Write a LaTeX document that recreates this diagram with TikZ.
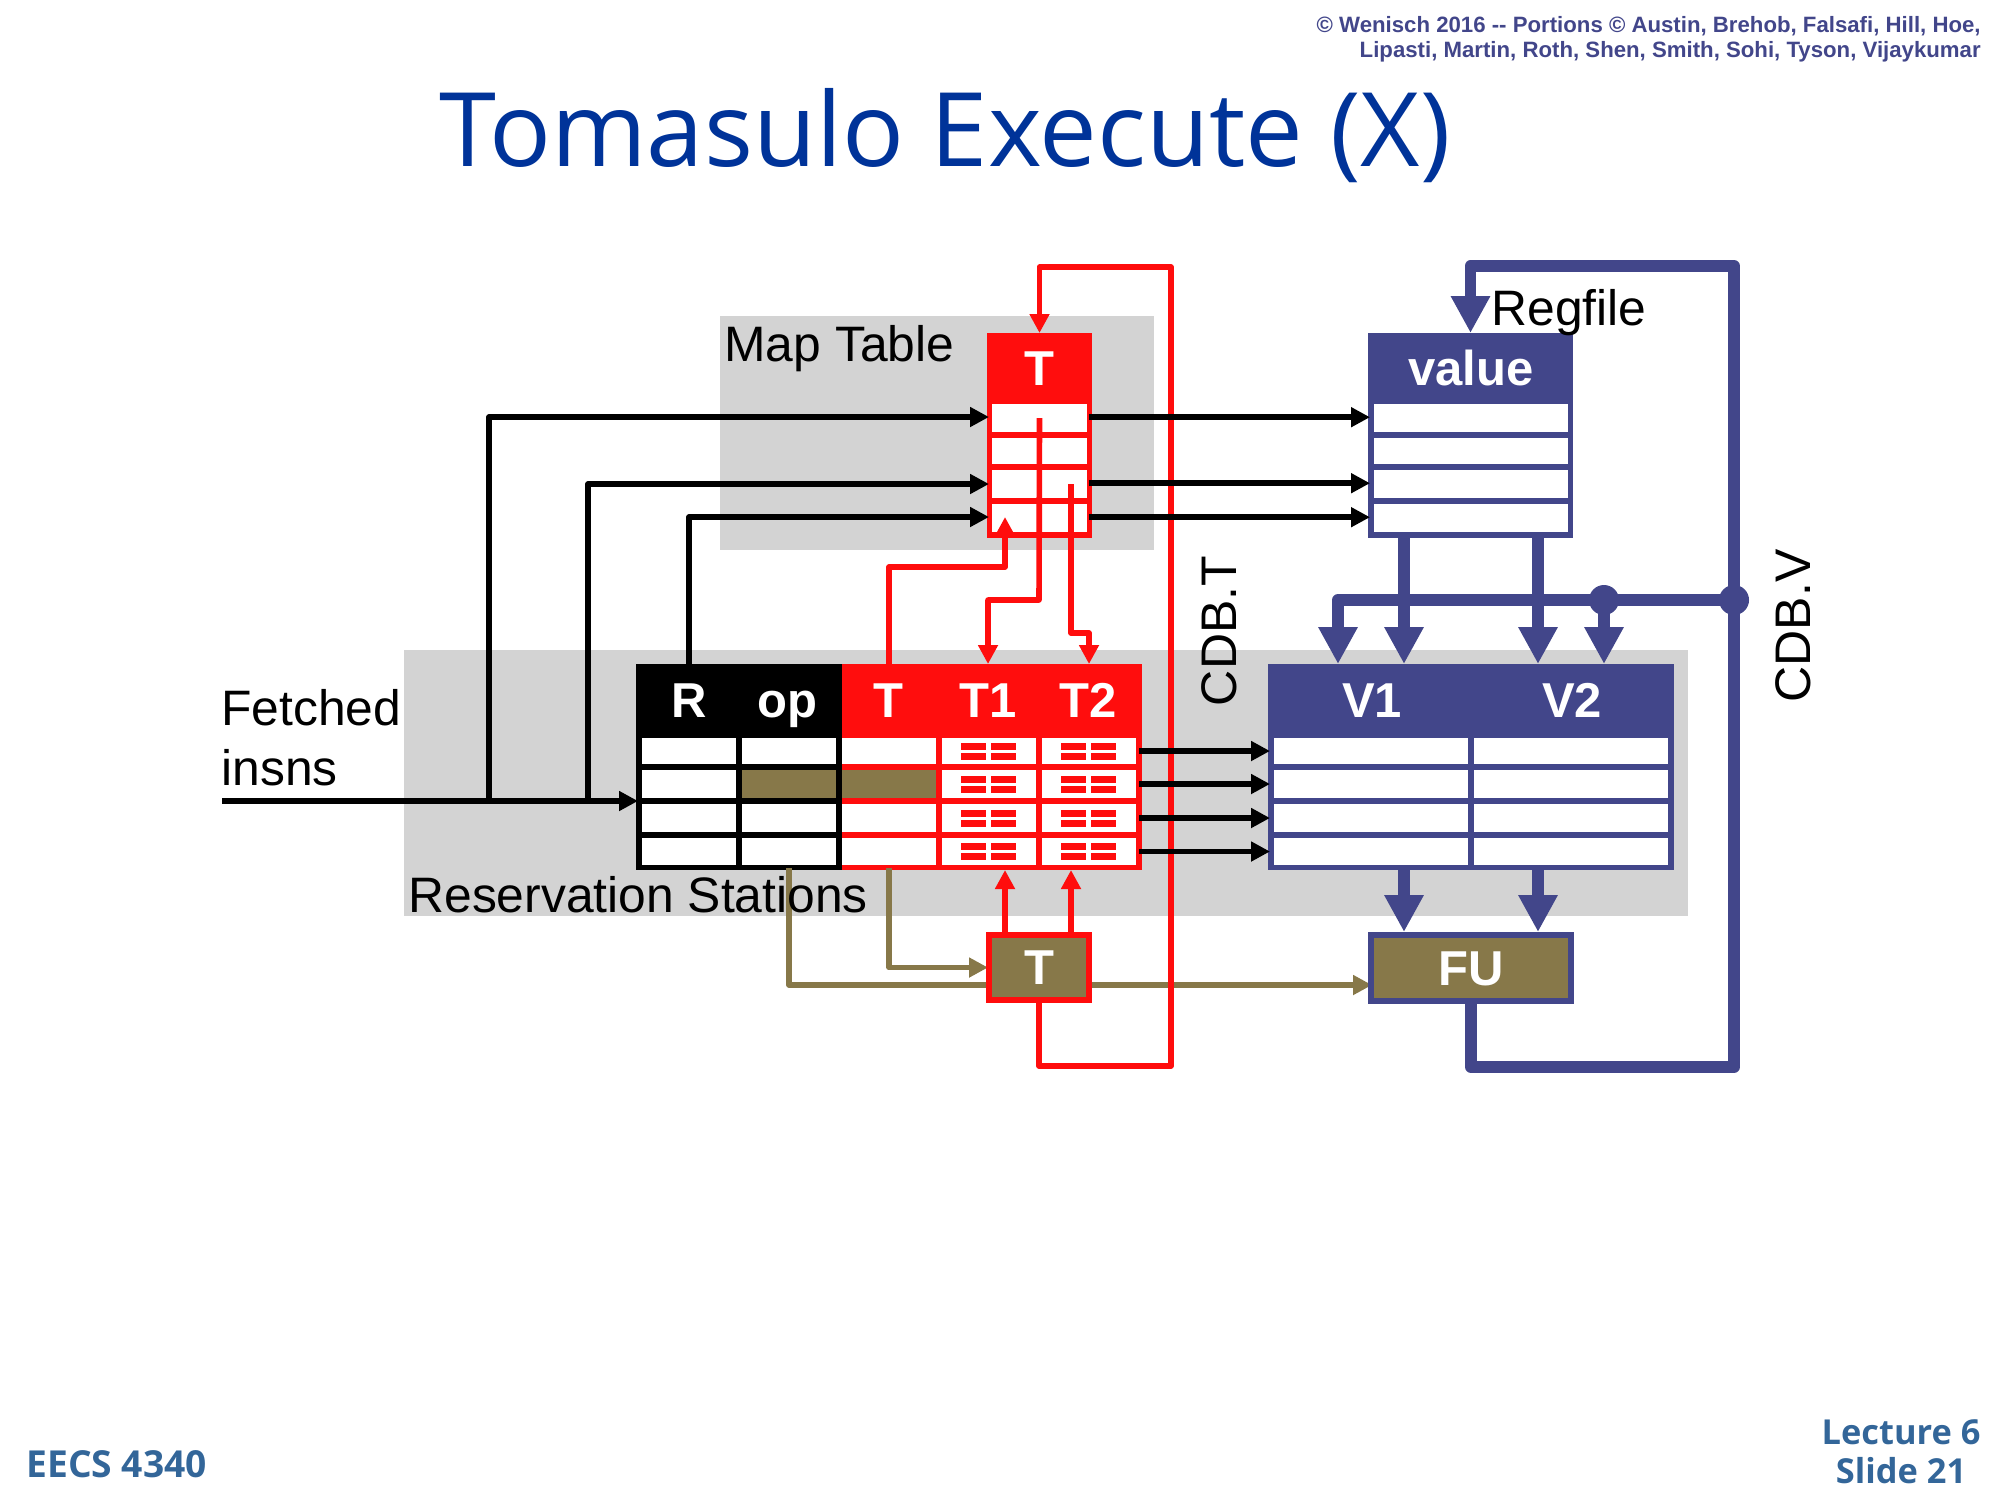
\documentclass[tikz,border=0pt]{standalone}
\usepackage{fontspec}
\setmainfont{Liberation Sans}
\newfontfamily\slidefont{Open Sans}
\usetikzlibrary{arrows.meta}

\definecolor{rsred}{HTML}{FF0D0D}
\definecolor{rsblue}{HTML}{42468A}
\definecolor{rsolive}{HTML}{877849}
\definecolor{rsgray}{HTML}{D3D3D3}
\definecolor{titleblue}{HTML}{003399}
\definecolor{footblue}{HTML}{336699}

\tikzset{
  block/.style n args={3}{rectangle, fill=#3, draw=none, inner sep=0pt, outer sep=0pt,
    minimum width=#1*0.5pt, minimum height=#2*0.5pt},
  cell/.style 2 args={block={#1}{#2}{white}},
  framed/.style n args={3}{rectangle, fill=rsolive, draw=#3, line width=3pt, inner sep=0pt,
    minimum width=#1*0.5pt, minimum height=#2*0.5pt},
  conn/.style={line width=2.8pt, line join=round},
  blackwire/.style={conn, black, -{Triangle[length=9.5pt,width=9.5pt]}},
  redwire/.style={conn, rsred, -{Triangle[length=9.5pt,width=9.5pt]}},
  olivewire/.style={conn, rsolive, -{Triangle[length=9.5pt,width=9.5pt]}},
  bluewire/.style={line width=5.8pt, line join=round, rsblue, -{Triangle[length=18.5pt,width=18.5pt]}},
  busdot/.style={circle, fill=rsblue, inner sep=0pt, minimum size=15pt},
  head/.style={anchor=base, inner sep=0pt, text=white, font=\bfseries\fontsize{24.5}{29}\selectfont},
  caption/.style={anchor=base west, inner sep=0pt, font=\fontsize{24.9}{30}\selectfont},
  sidecaption/.style={anchor=base, rotate=90, inner sep=0pt, font=\fontsize{25}{30}\selectfont},
  credit/.style={anchor=base east, inner sep=0pt, text=rsblue, font=\bfseries\fontsize{11.1}{13}\selectfont},
  foot/.style={anchor=base, inner sep=0pt, text=footblue, font=\slidefont\bfseries\fontsize{17.2}{20}\selectfont}
}

\begin{document}
\begin{tikzpicture}[x=0.5pt, y=-0.5pt]
  \useasboundingbox (0,0) rectangle (2000,1500);

  % grey backdrops
  \node[block={434}{234}{rsgray}] (mapback) at (937,433) {};
  \node[block={1284}{266}{rsgray}] (rsback) at (1046,783) {};

  % map table and regfile
  \node[block={105}{205}{rsred}] (map) at (1039.5,435.5) {};
  \node[block={205}{205}{rsblue}] (reg) at (1470.5,435.5) {};
  \foreach \n/\y/\h in {1/418/28,2/451/26,3/484/28,4/518/28} {
    \node[cell={95}{\h}] (m\n) at (1039.5,\y) {};
    \node[cell={194}{\h}] (r\n) at (1471,\y) {};
  }

  % reservation stations
  \node[block={206}{206}{black}] (rsleft) at (739,767) {};
  \node[block={300}{206}{rsred}] (rsright) at (992,767) {};
  \node[block={406}{206}{rsblue}] (vtab) at (1471,767) {};
  \foreach \n/\y/\h in {1/751/26,2/784/28,3/818/28,4/851.5/27} {
    \node[cell={94}{\h}] (rsR\n) at (689,\y) {};
    \node[cell={94}{\h}] (rsOp\n) at (789,\y) {};
    \node[cell={94}{\h}] (rsT\n) at (889,\y) {};
    \node[cell={94}{\h}] (rsTa\n) at (989,\y) {};
    \node[cell={94}{\h}] (rsTb\n) at (1089,\y) {};
    \node[cell={194}{\h}] (rsVa\n) at (1371,\y) {};
    \node[cell={194}{\h}] (rsVb\n) at (1571,\y) {};
    \foreach \x in {973.5,1003.5,1073.5,1103.5} {
      \fill[rsred] (\x-12.5,\y-8.5) rectangle (\x+12.5,\y-1.5);
      \fill[rsred] (\x-12.5,\y+1.5) rectangle (\x+12.5,\y+8.5);
    }
  }
  \node[block={94}{28}{rsolive}] (busyOp) at (rsOp2) {};
  \node[block={94}{28}{rsolive}] (busyT) at (rsT2) {};

  % junctions and corners
  \coordinate (fetch) at (222,801);
  \coordinate (fetchin) at (638,801);
  \coordinate (jA) at (489,801);
  \coordinate (jB) at (588,801);
  \coordinate (tagin) at (988,967.5);
  \coordinate (fuin) at (1372,985);
  \coordinate (fromOp) at (789,868);
  \coordinate (fromT) at (889,868);
  \coordinate (t1in) at (988,664);
  \coordinate (t2in) at (1089,664);
  \coordinate (jogA) at (1039,600);
  \coordinate (lineB) at (1071,484);
  \coordinate (jogB) at (1071,633);
  \coordinate (toT) at (889,664);
  \coordinate (turnT) at (1005,567);
  \coordinate (mapin) at (1005,517);
  \coordinate (tagA) at (1005,870);
  \coordinate (tagB) at (1071,870);
  \coordinate (cdbtlow) at (1171,1066);
  \coordinate (cdbtup) at (1171,267);
  \coordinate (cdbvlow) at (1734,1067);
  \coordinate (cdbvup) at (1734,266);
  \coordinate (v1a) at (1338,664);
  \coordinate (v1b) at (1404,664);
  \coordinate (v2a) at (1538,664);
  \coordinate (v2b) at (1604,664);

  % olive wires go under the boxes
  \draw[olivewire] (fromOp) |- (fuin);
  \draw[olivewire] (fromT) |- (tagin);

  \node[framed={200}{66}{rsblue}] (fu) at (1471,968) {};
  \node[framed={100}{65}{rsred}] (tag) at (1039,967.5) {};

  % CDB.T
  \draw[redwire] (tag.south) |- (cdbtlow) -- (cdbtup) -| (map.north);
  \draw[redwire] (tagA |- tag.north) -- (tagA);
  \draw[redwire] (tagB |- tag.north) -- (tagB);
  \draw[redwire] (m1.center) -- (jogA) -| (t1in);
  \draw[redwire] (lineB) -- (jogB) -| (t2in);
  \draw[redwire] (toT) |- (turnT) -- (mapin);

  % CDB.V
  \draw[bluewire] (fu.south) |- (cdbvlow) -- (cdbvup) -| (reg.north);
  \node[busdot] (dotB) at (1734,600) {};
  \node[busdot] (dotA) at (1604,600) {};
  \draw[bluewire] (dotB.center) -| (v1a);
  \draw[bluewire] (dotA.center) -- (v2b);
  \draw[bluewire] (reg.south -| v1b) -- (v1b);
  \draw[bluewire] (reg.south -| v2a) -- (v2a);
  \draw[bluewire] (vtab.south -| v1b) -- (fu.north -| v1b);
  \draw[bluewire] (vtab.south -| v2a) -- (fu.north -| v2a);

  % black wires
  \draw[blackwire] (fetch) -- (fetchin);
  \draw[blackwire] (jA) |- ([xshift=1pt,yshift=0.5pt]map.west |- m1);
  \draw[blackwire] (jB) |- ([xshift=1pt]map.west |- m3);
  \draw[blackwire] (rsleft.north -| rsR1) |- ([xshift=1pt,yshift=0.5pt]map.west |- m4);
  \foreach \n in {1,3,4} {
    \draw[blackwire, shorten <=-1.5pt, shorten >=-1pt] ([yshift=0.4pt]map.east |- m\n) -- ([yshift=0.4pt]reg.west |- r\n);
  }
  \foreach \n in {1,2,3,4} {
    \draw[blackwire, shorten <=-1.5pt, shorten >=-1pt] (rsright.east |- rsTb\n) -- (vtab.west |- rsVa\n);
  }

  % header texts
  \node[head] (hmap) at (1039,385) {T};
  \node[head] (hreg) at (1471,385) {value};
  \node[head] (hR) at (689,717) {R};
  \node[head] (hop) at (787,717) {op};
  \node[head] (hT) at (888,717) {T};
  \node[head] (hTa) at (988,717) {T1};
  \node[head] (hTb) at (1088,717) {T2};
  \node[head] (hVa) at (1372,717) {V1};
  \node[head] (hVb) at (1572,717) {V2};
  \node[head] (hfu) at (1471,985) {FU};
  \node[head] (htag) at (1039,984) {T};

  % labels
  \node[caption] (lmap) at (724,361) {Map Table};
  \node[caption] (lreg) at (1491,325) {Regfile};
  \node[caption] (lfetcha) at (221,725) {Fetched};
  \node[caption] (lfetchb) at (221,785) {insns};
  \node[caption] (lrs) at (408,912) {Reservation Stations};
  \node[sidecaption] (lcdbt) at (1236,631) {CDB.T};
  \node[sidecaption] (lcdbv) at (1810,626) {CDB.V};

  % slide furniture
  \node[anchor=base, inner sep=0pt, text=titleblue, font=\slidefont\fontsize{51.4}{60}\selectfont] (title) at (945,166) {Tomasulo Execute (X)};
  \node[credit] (crediA) at (1981,32) {© Wenisch 2016 -{}- Portions © Austin, Brehob, Falsafi, Hill, Hoe,};
  \node[credit] (crediB) at (1981,57) {Lipasti, Martin, Roth, Shen, Smith, Sohi, Tyson, Vijaykumar};
  \node[foot, anchor=base west, font=\slidefont\bfseries\fontsize{18.6}{22}\selectfont] (course) at (26,1477) {EECS 4340};
  \node[foot] (lecture) at (1901,1444) {Lecture 6};
  \node[foot] (slide) at (1901,1483) {Slide 21};
\end{tikzpicture}
\end{document}
